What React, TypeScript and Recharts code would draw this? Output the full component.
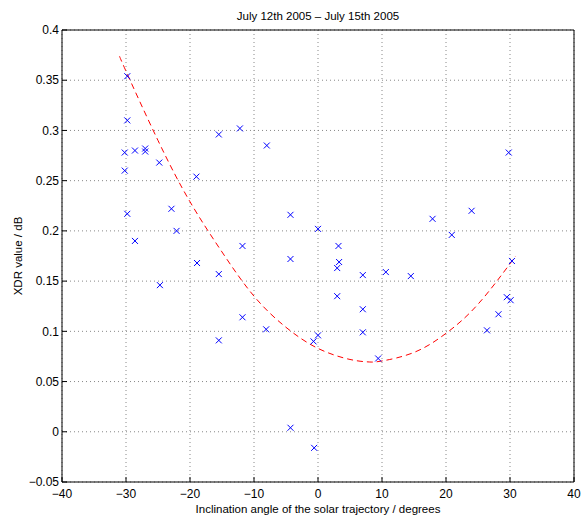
import React from 'react';
import { ComposedChart, Scatter, Line, XAxis, YAxis, CartesianGrid, Label } from 'recharts';

// measured points (inclination angle in degrees, XDR in dB)
const angles = [
    -29.8, -29.8, -30.2, -30.2, -28.6, -27.0, -27.0, -24.8, -29.8, -28.6,
    -22.9, -22.1, -19.0, -15.5, -12.2, -8.0, -11.8, -4.3, 0.0, 3.2,
    29.8, 17.9, 24.0, 20.9, -24.7, -18.9, -15.5, -11.8, -15.5, -8.1,
    -4.3, -4.3, 3.3, 3.0, 7.0, 10.6, 14.5, 3.0, 7.0, 7.0,
    0.0, -0.7, 9.4, 26.4, 28.2, 29.5, 30.1, 30.3, -0.6,
];
const xdrValues = [
    0.354, 0.310, 0.278, 0.260, 0.280, 0.282, 0.279, 0.268, 0.217, 0.190,
    0.222, 0.200, 0.254, 0.296, 0.302, 0.285, 0.185, 0.216, 0.202, 0.185,
    0.278, 0.212, 0.220, 0.196, 0.146, 0.168, 0.157, 0.114, 0.091, 0.102,
    0.172, 0.004, 0.169, 0.163, 0.156, 0.159, 0.155, 0.135, 0.122, 0.099,
    0.096, 0.090, 0.073, 0.101, 0.117, 0.134, 0.131, 0.170, -0.016,
];

// fitted curve
const fitAngles = [-31, -30, -25, -20, -15, -10, -5, 0, 5, 8, 10, 15, 20, 25, 30.9];
const fitValues = [0.374, 0.359, 0.29, 0.229, 0.179, 0.135, 0.104, 0.083, 0.072, 0.0695, 0.0705, 0.079, 0.098, 0.127, 0.175];

const xTicks = [-40, -30, -20, -10, 0, 10, 20, 30, 40];
const yTicks = [-0.05, 0, 0.05, 0.1, 0.15, 0.2, 0.25, 0.3, 0.35, 0.4];

const points = angles.map((x, i) => ({ x, y: xdrValues[i] }));
const fit = fitAngles.map((x, i) => ({ x, y: fitValues[i] }));

const fmt = (v: number) => (v < 0 ? '\u2212' + String(-v) : String(v));

const Cross = (props: any) => {
    const { cx, cy } = props;
    const s = 3;
    return (
        <path
            d={`M${cx - s},${cy - s}L${cx + s},${cy + s}M${cx - s},${cy + s}L${cx + s},${cy - s}`}
            stroke="#0000ff"
            strokeWidth={1}
            fill="none"
        />
    );
};

const tickStyle = { fill: '#000', fontSize: 12 };

const App: React.FC = () => {
    return (
        <div
            style={{
                position: 'absolute',
                left: 0,
                top: 0,
                width: 581,
                height: 517,
                fontFamily: '"Liberation Sans", Arial, sans-serif',
            }}
        >
            <div
                style={{
                    position: 'absolute',
                    left: 62,
                    width: 512,
                    top: 10,
                    textAlign: 'center',
                    fontSize: 11.5,
                    lineHeight: '12px',
                    color: '#000',
                }}
            >
                July 12th 2005 – July 15th 2005
            </div>
            <ComposedChart
                width={581}
                height={517}
                margin={{ top: 29, right: 6, left: 0, bottom: 0 }}
                style={{ overflow: 'visible' }}
            >
                <CartesianGrid stroke="#888" strokeDasharray="1 3" />
                <XAxis
                    dataKey="x"
                    type="number"
                    domain={[-40, 40]}
                    ticks={xTicks}
                    interval={0}
                    allowDataOverflow
                    height={35}
                    stroke="#000"
                    tickSize={-5}
                    tickMargin={12}
                    tick={tickStyle}
                    tickFormatter={fmt}
                >
                    <Label
                        value="Inclination angle of the solar trajectory / degrees"
                        position="insideBottom"
                        offset={4}
                        style={{ fontSize: 11.5, fill: '#000' }}
                    />
                </XAxis>
                <XAxis
                    xAxisId="top"
                    orientation="top"
                    type="number"
                    domain={[-40, 40]}
                    ticks={xTicks}
                    interval={0}
                    height={1}
                    stroke="#000"
                    tickSize={-5}
                    tick={false}
                />
                <YAxis
                    type="number"
                    domain={[-0.05, 0.4]}
                    ticks={yTicks}
                    interval={0}
                    allowDataOverflow
                    width={62}
                    stroke="#000"
                    tickSize={-5}
                    tickMargin={8}
                    tick={tickStyle}
                    tickFormatter={fmt}
                >
                    <Label
                        value="XDR value / dB"
                        position="insideLeft"
                        angle={-90}
                        offset={18}
                        style={{ fontSize: 11.5, fill: '#000', textAnchor: 'middle' }}
                    />
                </YAxis>
                <YAxis
                    yAxisId="right"
                    orientation="right"
                    type="number"
                    domain={[-0.05, 0.4]}
                    ticks={yTicks}
                    interval={0}
                    width={1}
                    stroke="#000"
                    tickSize={-5}
                    tick={false}
                />
                <Scatter data={points} dataKey="y" shape={Cross} isAnimationActive={false} />
                <Line
                    data={fit}
                    dataKey="y"
                    type="natural"
                    stroke="#ff0000"
                    strokeWidth={1}
                    strokeDasharray="6 4"
                    dot={false}
                    activeDot={false}
                    isAnimationActive={false}
                />
            </ComposedChart>
        </div>
    );
};

export default App;
